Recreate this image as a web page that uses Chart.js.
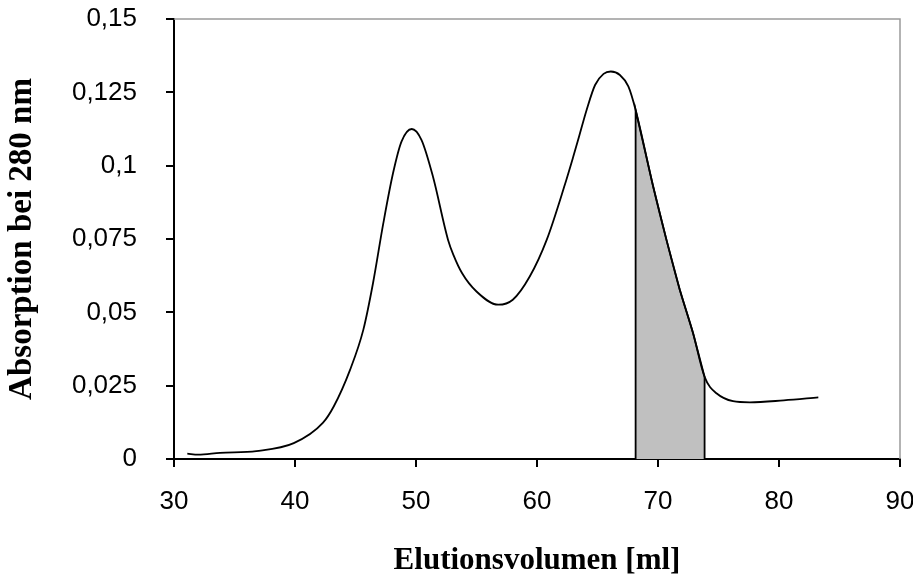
<!DOCTYPE html>
<html>
<head>
<meta charset="utf-8">
<script src="https://cdn.jsdelivr.net/npm/chart.js@4/dist/chart.umd.min.js"></script>
<style>
  html, body { margin: 0; padding: 0; background: #fff; }
  canvas { display: block; }
</style>
</head>
<body>
<canvas id="c" width="913" height="580"></canvas>
<script>
// Elution volume [ml]
const elutionVolume = [31.1, 32.0, 33.8, 36.8, 39.9, 42.3, 43.2, 44.55, 45.65, 46.45, 47.3, 48.1, 48.8, 49.65, 50.45, 51.4, 52.65, 53.1, 53.8, 55.0, 56.8, 58.0, 59.4, 60.8, 62.3, 63.0, 63.4, 64.1, 64.8, 65.5, 66.1, 66.85, 67.55, 68.15, 69.6, 70.7, 71.8, 72.9, 73.85, 74.8, 77.6, 80.4, 83.25];
// Absorption at 280 nm
const absorption = [0.0018, 0.0015, 0.0021, 0.0027, 0.0054, 0.0123, 0.0179, 0.0304, 0.0441, 0.060, 0.0804, 0.0974, 0.1082, 0.1125, 0.1088, 0.0963, 0.0747, 0.0695, 0.0634, 0.0571, 0.0526, 0.0543, 0.0622, 0.0747, 0.0935, 0.1031, 0.1088, 0.119, 0.1275, 0.1313, 0.1321, 0.1309, 0.127, 0.119, 0.0929, 0.0747, 0.0577, 0.0429, 0.028, 0.0225, 0.0193, 0.0200, 0.021];
// Pooled fraction (shaded)
const fractionStart = 68.15;
const fractionEnd = 73.85;
// Tick labels
const xTickLabels = ['30', '40', '50', '60', '70', '80', '90'];
const yTickLabels = ['0', '0,025', '0,05', '0,075', '0,1', '0,125', '0,15'];

const curve = elutionVolume.map((x, i) => ({ x: x, y: absorption[i] }));
const inside = curve.filter(p => p.x >= fractionStart && p.x <= fractionEnd);
const shade = [{ x: fractionStart, y: 0 }].concat(inside, [{ x: fractionEnd, y: 0 }]);

const frame = {
  id: 'frame',
  afterDatasetsDraw(chart) {
    const { ctx, chartArea: a } = chart;
    ctx.save();
    ctx.strokeStyle = '#9a9a9a';
    ctx.lineWidth = 1.5;
    ctx.beginPath();
    ctx.moveTo(a.left, a.top);
    ctx.lineTo(a.right, a.top);
    ctx.lineTo(a.right, a.bottom);
    ctx.stroke();
    ctx.restore();
  }
};

function noPad(s) {
  s.paddingTop = 0; s.paddingBottom = 0; s.paddingLeft = 0; s.paddingRight = 0;
}

new Chart(document.getElementById('c'), {
  type: 'line',
  data: {
    datasets: [
      {
        data: curve,
        borderColor: '#000',
        borderWidth: 1.8,
        pointRadius: 0,
        cubicInterpolationMode: 'monotone',
        fill: false,
        order: 0
      },
      {
        data: shade,
        borderColor: '#000',
        borderWidth: 1.8,
        backgroundColor: '#c0c0c0',
        pointRadius: 0,
        tension: 0,
        fill: 'origin',
        order: 1
      }
    ]
  },
  options: {
    responsive: false,
    animation: false,
    layout: { padding: { left: 0, right: 13, top: 19, bottom: 0 } },
    plugins: { legend: { display: false }, tooltip: { enabled: false } },
    scales: {
      x: {
        type: 'linear',
        min: 30, max: 90,
        afterFit(s) { s.height = 121; noPad(s); },
        ticks: {
          stepSize: 10,
          padding: 19,
          color: '#000',
          font: { family: "'Liberation Sans', Arial, sans-serif", size: 26 },
          callback: (v, i) => xTickLabels[i]
        },
        grid: { drawOnChartArea: false, drawTicks: true, tickLength: 8, color: '#000', lineWidth: 2 },
        border: { color: '#000', width: 2 },
        title: {
          display: true,
          text: 'Elutionsvolumen [ml]',
          color: '#000',
          font: { family: "'Liberation Serif', 'Times New Roman', serif", size: 31, weight: 'bold' },
          padding: { top: 0, bottom: 0 }
        }
      },
      y: {
        min: 0, max: 0.15,
        afterFit(s) { s.width = 174; noPad(s); },
        ticks: {
          stepSize: 0.025,
          padding: 29,
          color: '#000',
          font: { family: "'Liberation Sans', Arial, sans-serif", size: 26 },
          callback: (v, i) => yTickLabels[i]
        },
        grid: { drawOnChartArea: false, drawTicks: true, tickLength: 8, color: '#000', lineWidth: 2 },
        border: { color: '#000', width: 2 },
        title: {
          display: true,
          text: 'Absorption bei 280 nm',
          color: '#000',
          font: { family: "'Liberation Serif', 'Times New Roman', serif", size: 33, weight: 'bold' },
          padding: { top: 3, bottom: 0 }
        }
      }
    }
  },
  plugins: [frame]
});
</script>
</body>
</html>
